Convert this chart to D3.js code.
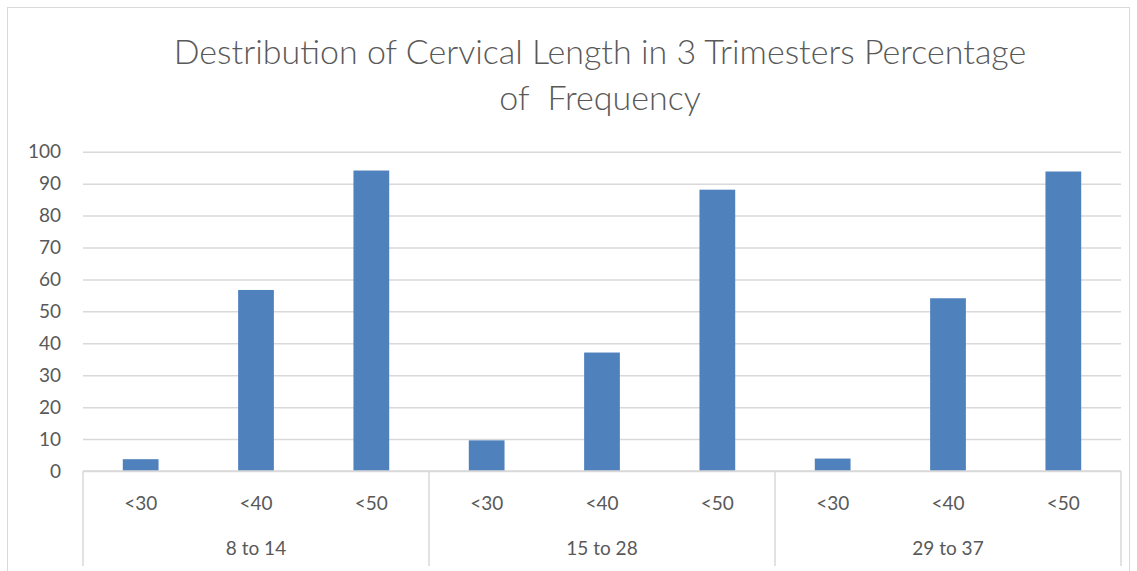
<!DOCTYPE html>
<html lang="en">
  <head>
    <meta charset="utf-8" />
    <title>Cervical length chart</title>
    <script src="https://d3js.org/d3.v7.min.js"></script>
    <style type="text/css">
      body { margin: 0; background: #fff; }
      text { font-family: Lato, 'Open Sans', sans-serif; fill: #595959; }
    </style>
  </head>
  <body>
    <script type="text/javascript">
      const w = 1137;
      const h = 571;

      // data
      const groups = ['8 to 14', '15 to 28', '29 to 37'];
      const bins = ['<30', '<40', '<50'];
      const values = [
        [3.7, 56.7, 94.1],
        [9.6, 37.1, 88.1],
        [3.9, 54.1, 93.8],
      ];
      const yTicks = [0, 10, 20, 30, 40, 50, 60, 70, 80, 90, 100];
      const titleLines = ['Destribution of Cervical Length in 3 Trimesters Percentage', 'of  Frequency'];

      const margin = { left: 83, right: 1121, top: 151.7, bottom: 471 };

      // flatten to one row per bar
      const rows = [];
      groups.forEach((g, gi) => {
        bins.forEach((b, bi) => {
          rows.push({ key: gi + '-' + bi, group: g, bin: b, value: values[gi][bi] });
        });
      });

      const svg = d3.select('body').append('svg').attr('width', w).attr('height', h);

      // chart border
      svg.append('rect')
        .attr('x', 7.5).attr('y', 7.5)
        .attr('width', 1122).attr('height', 600)
        .attr('fill', 'none')
        .attr('stroke', '#d9d9d9');

      // title
      svg.selectAll('text.title')
        .data(titleLines)
        .enter()
        .append('text')
        .attr('class', 'title')
        .attr('x', 600)
        .attr('y', (d, i) => 64 + i * 46)
        .attr('text-anchor', 'middle')
        .attr('font-size', '34px')
        .attr('font-weight', 300)
        .style('white-space', 'pre')
        .text((d) => d);

      const xScale = d3.scaleBand()
        .domain(rows.map((d) => d.key))
        .range([margin.left, margin.right])
        .paddingInner(0.69)
        .paddingOuter(0.345);

      const groupScale = d3.scaleBand()
        .domain(groups)
        .range([margin.left, margin.right]);

      const yScale = d3.scaleLinear()
        .domain([0, 100])
        .range([margin.bottom, margin.top]);

      // gridlines + y labels
      const yAxis = d3.axisLeft(yScale)
        .tickValues(yTicks)
        .tickSize(-(margin.right - margin.left))
        .tickPadding(22);

      const gy = svg.append('g')
        .attr('transform', `translate(${margin.left},0)`)
        .call(yAxis);
      gy.select('.domain').remove();
      gy.selectAll('line').attr('stroke', '#d9d9d9').attr('stroke-width', 1.5);
      gy.selectAll('text').attr('font-size', '19px').attr('fill', '#595959')
        .style('font-family', 'Lato, sans-serif');

      // bars
      svg.selectAll('rect.bar')
        .data(rows)
        .enter()
        .append('rect')
        .attr('class', 'bar')
        .attr('x', (d) => xScale(d.key))
        .attr('y', (d) => yScale(d.value))
        .attr('width', xScale.bandwidth())
        .attr('height', (d) => yScale(0) - yScale(d.value))
        .attr('fill', '#4f81bd');

      // category axis
      svg.append('line')
        .attr('x1', margin.left).attr('x2', margin.right)
        .attr('y1', yScale(0)).attr('y2', yScale(0))
        .attr('stroke', '#d9d9d9').attr('stroke-width', 1.5);

      const seps = groups.map((g) => groupScale(g)).concat([margin.right]);
      svg.selectAll('line.sep')
        .data(seps)
        .enter()
        .append('line')
        .attr('class', 'sep')
        .attr('x1', (d) => d).attr('x2', (d) => d)
        .attr('y1', yScale(0)).attr('y2', 566)
        .attr('stroke', '#d9d9d9').attr('stroke-width', 1.5);

      svg.selectAll('text.bin')
        .data(rows)
        .enter()
        .append('text')
        .attr('class', 'bin')
        .attr('x', (d) => xScale(d.key) + xScale.bandwidth() / 2)
        .attr('y', 510)
        .attr('text-anchor', 'middle')
        .attr('font-size', '19px')
        .text((d) => d.bin);

      svg.selectAll('text.group')
        .data(groups)
        .enter()
        .append('text')
        .attr('class', 'group')
        .attr('x', (d) => groupScale(d) + groupScale.bandwidth() / 2)
        .attr('y', 555)
        .attr('text-anchor', 'middle')
        .attr('font-size', '19px')
        .text((d) => d);
    </script>
  </body>
</html>
